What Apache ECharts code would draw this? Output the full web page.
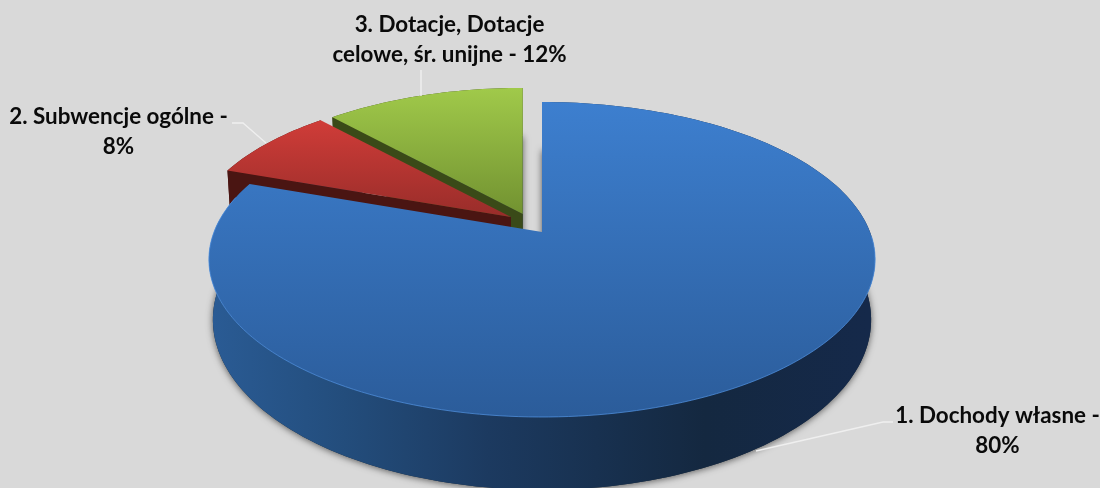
<!DOCTYPE html>
<html><head><meta charset="utf-8">
<style>html,body{margin:0;padding:0;background:#d9d9d9}#c{width:1100px;height:488px}</style>
<script src="https://cdn.jsdelivr.net/npm/echarts@6/dist/echarts.min.js"></script>
</head><body><div id="c"></div>
<script>
const categories = ['1. Dochody własne', '2. Subwencje ogólne', '3. Dotacje, Dotacje celowe, śr. unijne'];
const values = [80.4, 7.8, 11.8];
const labelLines = [['1. Dochody własne -', '80%'], ['2. Subwencje ogólne -', '8%'], ['3. Dotacje, Dotacje', 'celowe, śr. unijne - 12%']];

const G = echarts.graphic.LinearGradient;
const PERSP = 0.1746, RX = 328, RY = 152.7, DEPTH = 58, BOTTOM_KX = 0.988, BOTTOM_KY = 1.08;
const look = [
  { ax: 542, ay: 232, s: 1, order: 30,
    top: new G(0, 102, 0, 417, [{offset:0,color:'#3d7fcf'},{offset:1,color:'#2b5c9a'}], true),
    wall: new G(213, 0, 868, 0, [{offset:0,color:'#2a5b94'},{offset:0.2,color:'#234d7c'},{offset:0.42,color:'#1c3a60'},{offset:0.75,color:'#142840'},{offset:1,color:'#15294a'}], true),
    leader: [[756, 451], [883, 422], [893, 422]], lx: 997.5, ly: 416 },
  { ax: 511, ay: 217, s: 0.97, order: 20,
    top: new G(0, 122, 0, 228, [{offset:0,color:'#cf3c38'},{offset:1,color:'#922b28'}], true),
    wall: '#4a1512',
    leader: [[232, 123], [243, 123], [266, 143]], lx: 118.5, ly: 117 },
  { ax: 522.7, ay: 214, s: 0.97, order: 10,
    top: new G(0, 89, 0, 228, [{offset:0,color:'#a0c94a'},{offset:1,color:'#6d8c2e'}], true),
    wall: '#3a4a18',
    leader: [[421, 70], [421, 96]], lx: 449.5, ly: 25 }
];

const total = values.reduce((a, b) => a + b, 0);
function project(l, theta, r, z) {
  const u = r * Math.sin(theta), v = r * Math.cos(theta);
  const d = 1 + PERSP * v;
  const kx = l.s * (1 + (BOTTOM_KX - 1) * z), ky = l.s * (1 + (BOTTOM_KY - 1) * z);
  return [l.ax + kx * RX * u / d, l.ay + DEPTH * z - ky * RY * v / d];
}
function arc(l, a0, a1, z) {
  const n = Math.max(8, Math.ceil(Math.abs(a1 - a0) * 40)), pts = [];
  for (let i = 0; i <= n; i++) pts.push(project(l, a0 + (a1 - a0) * i / n, 1, z));
  return pts;
}

function renderItem(params, api) {
  const i = params.dataIndex, l = look[i];
  let before = 0;
  for (let j = 0; j < i; j++) before += values[j];
  const a0 = before / total * Math.PI * 2, a1 = (before + values[i]) / total * Math.PI * 2;
  const topRim = arc(l, a0, a1, 0), botRim = arc(l, a0, a1, 1);
  const apexT = project(l, 0, 0, 0), apexB = project(l, 0, 0, 1);
  const kids = [];
  kids.push({ type: 'polygon', z2: l.order, shape: { points: [apexB].concat(botRim) },
    style: { fill: '#1a2a3a', shadowBlur: 7, shadowColor: 'rgba(0,0,0,0.6)', shadowOffsetX: 0, shadowOffsetY: 1 } });
  kids.push({ type: 'polygon', z2: l.order + 1, shape: { points: topRim.concat(botRim.slice().reverse()) },
    style: { fill: l.wall } });
  kids.push({ type: 'polygon', z2: l.order + 2,
    shape: { points: [apexT, topRim[0], botRim[0], apexB] }, style: { fill: l.wall } });
  kids.push({ type: 'polygon', z2: l.order + 3, shape: { points: [apexT].concat(topRim) },
    style: { fill: l.top } });
  if (i === 0) {
    kids.push({ type: 'polyline', z2: l.order + 4,
      shape: { points: arc(l, 1.6, 4.95, 0) },
      style: { fill: null, stroke: 'rgba(80,145,225,0.75)', lineWidth: 1 } });
  }
  kids.push({ type: 'polyline', z2: 50, shape: { points: l.leader },
    style: { fill: null, stroke: '#efefef', lineWidth: 1.4 } });
  labelLines[i].forEach((t, n) => {
    kids.push({ type: 'text', z2: 60,
      style: { text: t, x: l.lx, y: l.ly + n * 29.5, align: 'center', verticalAlign: 'middle',
        fill: '#0a0a0a', font: 'bold 22.4px Lato, "Noto Sans", sans-serif' } });
  });
  return { type: 'group', children: kids };
}

const chart = echarts.init(document.getElementById('c'), null, { renderer: 'canvas' });
chart.setOption({
  backgroundColor: '#d9d9d9',
  animation: false,
  series: [{
    type: 'custom',
    coordinateSystem: 'none',
    renderItem,
    silent: true,
    data: categories.map((name, i) => ({ name, value: values[i] }))
  }]
});
</script></body></html>
